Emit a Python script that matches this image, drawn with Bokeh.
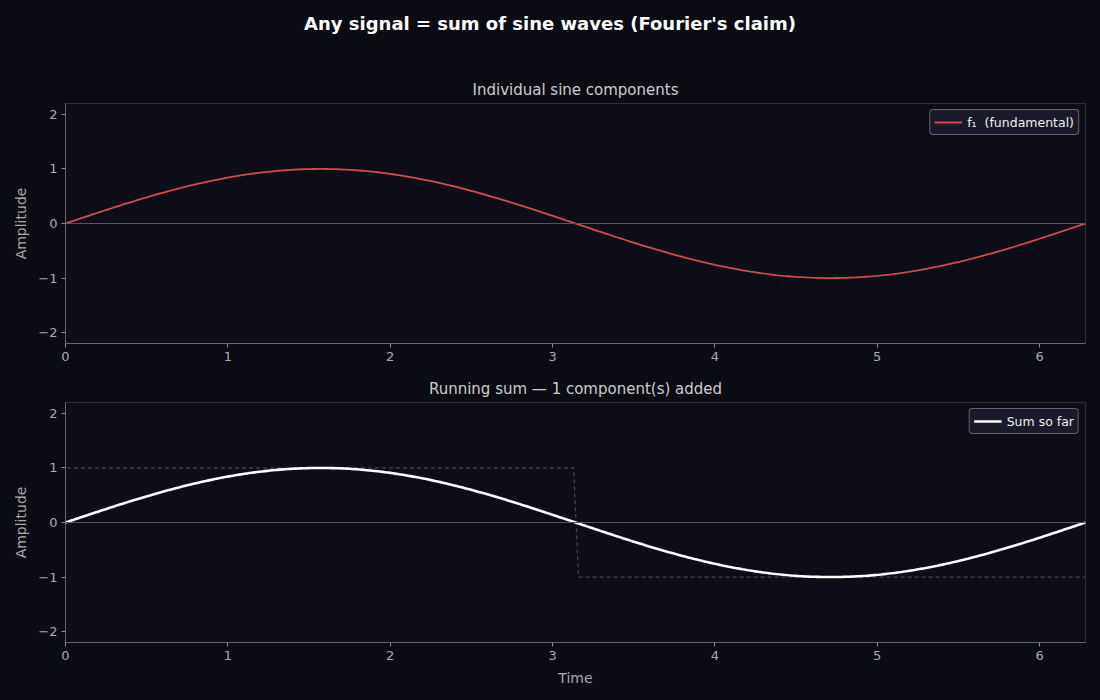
"""Somme de sinusoides (affirmation de Fourier) avec Bokeh."""

import numpy as np

from bokeh.embed import file_html
from bokeh.layouts import column
from bokeh.models import CustomJSTickFormatter, Div, FixedTicker, Range1d, Span
from bokeh.plotting import figure
from bokeh.resources import INLINE


# composantes: numero d'harmonique et amplitude
HARMONICS = [1]
AMPLITUDES = [1.0]
COMPONENT_LABELS = ["f\u2081  (fundamental)"]
COMPONENT_COLORS = ["#d64a4a"]

# onde carree cible (paliers)
SQUARE_T = [0.0, 0.0, 3.13, 3.16, 6.2832]
SQUARE_Y = [0.0, 1.0, 1.0, -1.0, -1.0]

X_TICKS = [0, 1, 2, 3, 4, 5, 6]
Y_TICKS = [-2, -1, 0, 1, 2]

PAGE_BG = "#0b0b14"
PLOT_BG = "#0d0d18"
FONT = "DejaVu Sans"

t = np.linspace(0, 2 * np.pi, 400)


def make_fig(title, height, border_top, border_bottom, x_label=None):
    p = figure(
        width=1100,
        height=height,
        x_range=Range1d(0, 2 * np.pi),
        y_range=Range1d(-2.2, 2.2),
        output_backend="svg",
        toolbar_location=None,
        min_border_left=65,
        min_border_right=15,
        min_border_top=border_top,
        min_border_bottom=border_bottom,
        background_fill_color=PLOT_BG,
        border_fill_color=PAGE_BG,
        outline_line_color="#2e2e38",
        margin=0,
    )
    p.title.text = title
    p.title.align = "center"
    p.title.text_color = "#cccccc"
    p.title.text_font = FONT
    p.title.text_font_size = "15px"
    p.title.text_font_style = "normal"
    p.title.standoff = 10
    p.grid.visible = False

    for ax in (p.xaxis, p.yaxis):
        ax.axis_line_color = "#666670"
        ax.major_tick_line_color = "#888890"
        ax.minor_tick_line_color = None
        ax.major_tick_out = 4
        ax.major_tick_in = 0
        ax.major_label_text_color = "#aaaaaa"
        ax.major_label_text_font = FONT
        ax.major_label_text_font_size = "13px"
        ax.major_label_standoff = 4
        ax.axis_label_text_color = "#aaaaaa"
        ax.axis_label_text_font = FONT
        ax.axis_label_text_font_size = "14px"
        ax.axis_label_text_font_style = "normal"
    p.xaxis.ticker = FixedTicker(ticks=X_TICKS)
    p.yaxis.ticker = FixedTicker(ticks=Y_TICKS)
    p.yaxis.formatter = CustomJSTickFormatter(
        code="return (tick < 0 ? '\u2212' + Math.abs(tick) : '' + tick);"
    )
    p.yaxis.axis_label = "Amplitude"
    p.yaxis.axis_label_standoff = 6
    if x_label:
        p.xaxis.axis_label = x_label
        p.xaxis.axis_label_standoff = 7

    p.add_layout(Span(location=0, dimension="width", line_color="#55555e", line_width=1))
    return p


def style_legend(p):
    p.legend.location = "top_right"
    p.legend.background_fill_color = "#1a1a2a"
    p.legend.background_fill_alpha = 1.0
    p.legend.border_line_color = "#aaaaaa"
    p.legend.border_radius = 4
    p.legend.label_text_color = "#eeeeee"
    p.legend.label_text_font = FONT
    p.legend.label_text_font_size = "12.5px"
    p.legend.glyph_width = 28
    p.legend.glyph_height = 16
    p.legend.label_height = 16
    p.legend.padding = 4
    p.legend.spacing = 0
    p.legend.margin = 6


title_div = Div(
    text="<b>Any signal = sum of sine waves (Fourier's claim)</b>",
    width=1100,
    height=50,
    margin=0,
    styles={
        "color": "#ffffff",
        "font-family": FONT,
        "font-size": "18px",
        "text-align": "center",
        "width": "1100px",
        "padding-top": "11px",
        "background": PAGE_BG,
    },
)

# composantes individuelles
p1 = make_fig("Individual sine components", 318, 53, 25)
total = np.zeros_like(t)
for k, amp, label, color in zip(HARMONICS, AMPLITUDES, COMPONENT_LABELS, COMPONENT_COLORS):
    comp = amp * np.sin(k * t)
    total = total + comp
    p1.line(t, comp, line_color=color, line_width=1.8, legend_label=label)
style_legend(p1)

# somme cumulee
p2 = make_fig(f"Running sum \u2014 {len(HARMONICS)} component(s) added", 332, 34, 58, "Time")
p2.line(SQUARE_T, SQUARE_Y, line_color="#44445a", line_width=1.2, line_dash="4 3")
p2.line(t, total, line_color="#ffffff", line_width=2.6, legend_label="Sum so far")
style_legend(p2)

layout = column(title_div, p1, p2, spacing=0, margin=0)

html = file_html(layout, INLINE, title="Fourier")
css = f"<style>html, body {{ margin: 0; padding: 0; background: {PAGE_BG}; overflow: hidden; }}</style>"
html = html.replace("</head>", css + "</head>", 1)
open("out.html", "w").write(html)
